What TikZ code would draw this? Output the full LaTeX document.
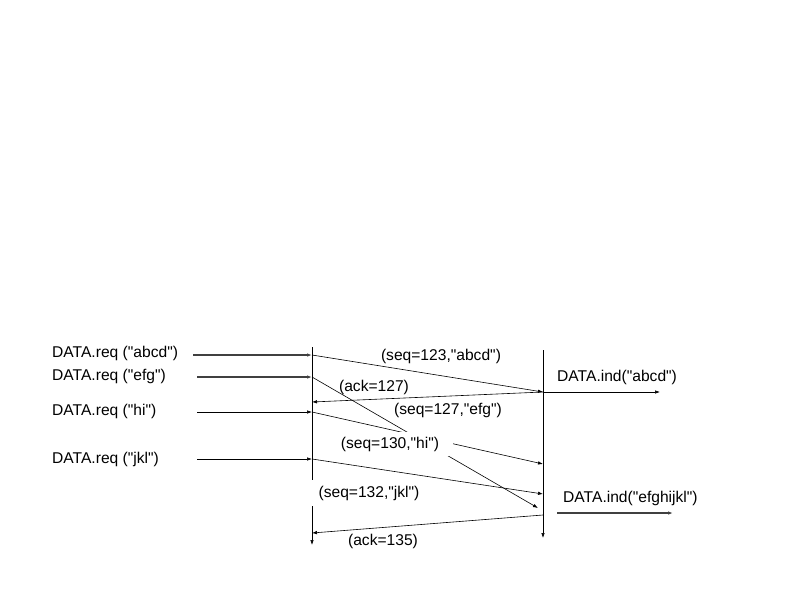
\documentclass[tikz,border=0pt]{standalone}
\usepackage{fontspec}
\setmainfont{Liberation Sans}[Ligatures=TeXOff]
\usetikzlibrary{arrows.meta}
\begin{document}
\begin{tikzpicture}[x=1pt,y=-1pt,font=\fontsize{15.6}{18}\selectfont,
  msg/.style={-{Latex[length=5pt,width=3.5pt]},line width=0.6pt},
  greymsg/.style={msg,black!75,line width=1.1pt},
  lbl/.style={inner sep=0pt},
  cover/.style={fill=white,inner xsep=14pt,inner ysep=5pt}]
\useasboundingbox (0,0) rectangle (793,595);

% Time lines of sender and receiver
\coordinate (sTop) at (312,347);
\coordinate (sBot) at (312,545);
\coordinate (rTop) at (543,350);
\coordinate (rBot) at (543,538);
\draw[msg] (sTop) -- (sBot);
\draw[msg] (rTop) -- (rBot);

% Points on the time lines
\coordinate (s1) at (312,355);
\coordinate (s2) at (312,377);
\coordinate (s3) at (312,412);
\coordinate (s4) at (312,459);
\coordinate (sAck1) at (312,402);
\coordinate (sAck2) at (312,533);
\coordinate (r1) at (543,392);
\coordinate (r3) at (543,464);
\coordinate (r4) at (543,494);
\coordinate (r5) at (543,515);
\coordinate (rLate) at (538,508); % efg segment arrives late

% Requests from the user
\node[lbl,anchor=west] (reqA) at (52,353) {DATA.req ("abcd")};
\node[lbl,anchor=west] (reqE) at (52,376) {DATA.req ("efg")};
\node[lbl,anchor=west] (reqH) at (52,411) {DATA.req ("hi")};
\node[lbl,anchor=west] (reqJ) at (52,459) {DATA.req ("jkl")};
\coordinate (q1) at (193,355);
\coordinate (q2) at (197,377);
\coordinate (q3) at (197,412);
\coordinate (q4) at (197,459);
\draw[greymsg] (q1) -- (s1);
\draw[greymsg] (q2) -- (s2);
\draw[msg] (q3) -- (s3);
\draw[msg] (q4) -- (s4);

% Segments and acknowledgements
\draw[msg] (s1) -- (r1);
\draw[msg] (r1) -- (sAck1);
\draw[msg] (s2) -- (rLate);
\draw[msg] (s3) -- (r3);
\draw[msg] (s4) -- (r4);
\draw[msg] (r5) -- (sAck2);

% Labels of the segments
\node[lbl] (lSeqA) at (441,356) {(seq=123,"abcd")};
\node[lbl] (lAckA) at (374,387) {(ack=127)};
\node[lbl] (lSeqE) at (448,410) {(seq=127,"efg")};
\node[cover] (lSeqH) at (390,444) {(seq=130,"hi")};
\node[cover,inner xsep=8pt,inner ysep=6pt] (lSeqJ) at (369,493) {(seq=132,"jkl")};
\node[lbl] (lAckJ) at (383,541) {(ack=135)};

% Indications to the user
\node[lbl,anchor=west] (indA) at (557,377) {DATA.ind("abcd")};
\node[lbl,anchor=west] (indE) at (563,498) {DATA.ind("efghijkl")};
\coordinate (i1) at (660,392);
\coordinate (i2a) at (557,513);
\coordinate (i2b) at (673,513);
\draw[msg] (r1) -- (i1);
\draw[greymsg] (i2a) -- (i2b);

\end{tikzpicture}
\end{document}
